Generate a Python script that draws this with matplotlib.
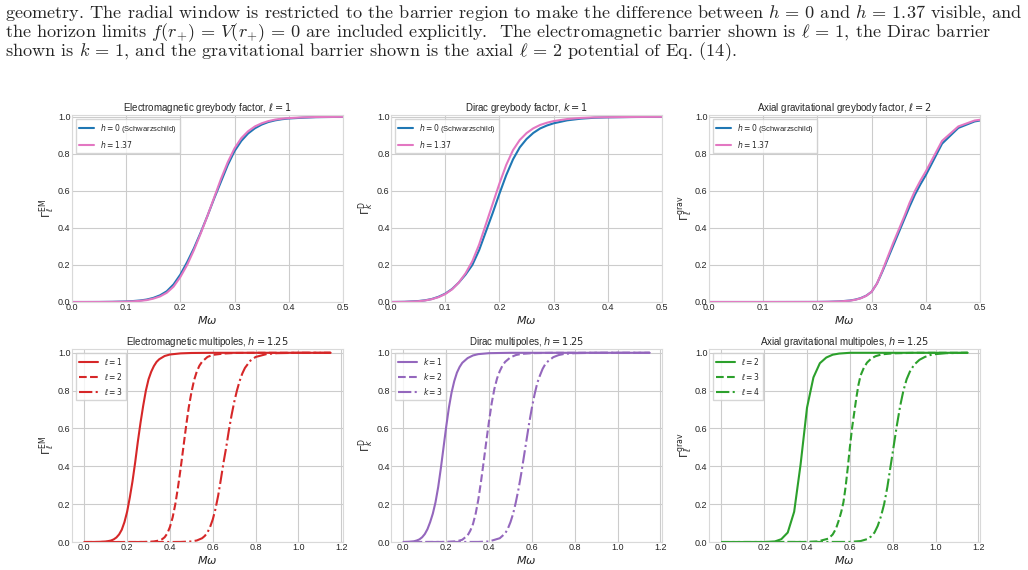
import numpy as np
import matplotlib
matplotlib.use("Agg")
import matplotlib.pyplot as plt

plt.style.use("seaborn-v0_8-whitegrid")
plt.rcParams["mathtext.fontset"] = "dejavusans"

# ---- top row: h = 0 vs h = 1.37 ----
em_x = [0, 0.025, 0.05, 0.075, 0.1, 0.1125, 0.125, 0.1375, 0.15, 0.1625, 0.175, 0.1875, 0.2, 0.2125,
        0.225, 0.2375, 0.25, 0.2625, 0.275, 0.2875, 0.3, 0.3125, 0.325, 0.3375, 0.35, 0.3625, 0.375,
        0.3875, 0.4, 0.425, 0.45, 0.475, 0.5]
em_h0 = [0, 0.00002, 0.0002, 0.001, 0.003, 0.005, 0.008, 0.013, 0.022, 0.036, 0.058, 0.095, 0.148, 0.215,
         0.29, 0.375, 0.465, 0.56, 0.65, 0.74, 0.815, 0.87, 0.91, 0.938, 0.958, 0.972, 0.981,
         0.987, 0.991, 0.995, 0.998, 0.999, 1.0]
em_h137 = [0, 0.00001, 0.0001, 0.0007, 0.002, 0.0035, 0.006, 0.01, 0.018, 0.03, 0.05, 0.083, 0.135, 0.2,
           0.28, 0.37, 0.465, 0.565, 0.665, 0.755, 0.83, 0.885, 0.922, 0.948, 0.965, 0.977, 0.985,
           0.99, 0.993, 0.997, 0.999, 0.9995, 1.0]

dirac_x = [0, 0.025, 0.05, 0.0625, 0.075, 0.0875, 0.1, 0.1125, 0.125, 0.1375, 0.15, 0.1625, 0.175, 0.1875,
           0.2, 0.2125, 0.225, 0.2375, 0.25, 0.2625, 0.275, 0.2875, 0.3, 0.325, 0.35, 0.375, 0.4, 0.45, 0.5]
dirac_h0 = [0, 0.001, 0.005, 0.009, 0.016, 0.028, 0.045, 0.07, 0.105, 0.148, 0.2, 0.28, 0.38, 0.48,
            0.585, 0.685, 0.77, 0.835, 0.88, 0.913, 0.937, 0.953, 0.965, 0.981, 0.99, 0.995, 0.997, 0.999, 1.0]
dirac_h137 = [0, 0.0008, 0.004, 0.008, 0.015, 0.026, 0.043, 0.068, 0.105, 0.155, 0.22, 0.31, 0.42, 0.53,
              0.64, 0.74, 0.82, 0.875, 0.912, 0.938, 0.956, 0.968, 0.977, 0.988, 0.994, 0.997, 0.998, 0.9995, 1.0]

grav_x = [0.0, 0.1, 0.2, 0.22, 0.24, 0.26, 0.27, 0.28, 0.29, 0.30, 0.31, 0.32, 0.33, 0.34, 0.35, 0.36, 0.37,
          0.38, 0.39, 0.40, 0.43, 0.46, 0.49, 0.52]
grav_h0 = [0, 0, 0.0003, 0.001, 0.003, 0.008, 0.013, 0.021, 0.034, 0.055, 0.1, 0.165, 0.235, 0.305, 0.375,
           0.445, 0.515, 0.58, 0.635, 0.685, 0.855, 0.94, 0.975, 0.99]
grav_h137 = [0, 0, 0.0003, 0.001, 0.003, 0.007, 0.012, 0.02, 0.033, 0.055, 0.1, 0.17, 0.245, 0.32, 0.39,
             0.46, 0.535, 0.6, 0.655, 0.705, 0.87, 0.948, 0.98, 0.992]

# ---- bottom row: multipoles at h = 1.25 ----
em1_x = [0, 0.05, 0.075, 0.1, 0.1125, 0.125, 0.1375, 0.15, 0.1625, 0.175, 0.1875, 0.2, 0.2125, 0.225, 0.2375,
         0.25, 0.2625, 0.275, 0.2875, 0.3, 0.3125, 0.325, 0.3375, 0.35, 0.375, 0.4, 0.45, 0.5, 0.6, 1.15]
em1_y = [0, 0.0002, 0.001, 0.003, 0.005, 0.008, 0.014, 0.024, 0.04, 0.065, 0.105, 0.16, 0.235, 0.32, 0.42,
         0.53, 0.63, 0.72, 0.8, 0.86, 0.9, 0.93, 0.952, 0.966, 0.983, 0.991, 0.997, 0.999, 1.0, 1.0]
em2_x = [0, 0.25, 0.3, 0.325, 0.35, 0.3625, 0.375, 0.3875, 0.4, 0.4125, 0.425, 0.4375, 0.45, 0.4625, 0.475,
         0.4875, 0.5, 0.5125, 0.525, 0.5375, 0.55, 0.575, 0.6, 0.65, 0.7, 0.8, 1.15]
em2_y = [0, 0.0001, 0.001, 0.003, 0.008, 0.014, 0.025, 0.045, 0.08, 0.13, 0.2, 0.29, 0.39, 0.5, 0.61,
         0.71, 0.79, 0.855, 0.9, 0.932, 0.953, 0.978, 0.989, 0.996, 0.999, 1.0, 1.0]
em3_x = [0, 0.4, 0.45, 0.5, 0.525, 0.55, 0.5625, 0.575, 0.5875, 0.6, 0.6125, 0.625, 0.6375, 0.65, 0.6625,
         0.675, 0.6875, 0.7, 0.7125, 0.725, 0.7375, 0.75, 0.775, 0.8, 0.85, 0.9, 1.0, 1.15]
em3_y = [0, 0.0001, 0.0005, 0.003, 0.008, 0.02, 0.032, 0.05, 0.08, 0.12, 0.175, 0.245, 0.33, 0.42, 0.5,
         0.59, 0.67, 0.74, 0.8, 0.85, 0.89, 0.92, 0.958, 0.978, 0.993, 0.998, 1.0, 1.0]

dk1_x = [0, 0.025, 0.05, 0.0625, 0.075, 0.0875, 0.1, 0.1125, 0.125, 0.1375, 0.15, 0.1625, 0.175, 0.1875,
         0.2, 0.2125, 0.225, 0.2375, 0.25, 0.2625, 0.275, 0.3, 0.325, 0.35, 0.4, 0.5, 1.15]
dk1_y = [0, 0.001, 0.004, 0.008, 0.014, 0.025, 0.042, 0.068, 0.105, 0.15, 0.21, 0.29, 0.39, 0.5,
         0.61, 0.71, 0.79, 0.85, 0.895, 0.925, 0.947, 0.972, 0.986, 0.993, 0.998, 1.0, 1.0]
dk2_x = [0, 0.2, 0.25, 0.275, 0.3, 0.3125, 0.325, 0.3375, 0.35, 0.3625, 0.375, 0.3875, 0.4, 0.4125, 0.425,
         0.4375, 0.45, 0.4625, 0.475, 0.5, 0.525, 0.55, 0.6, 0.7, 1.15]
dk2_y = [0, 0.0005, 0.004, 0.012, 0.035, 0.06, 0.095, 0.15, 0.225, 0.32, 0.425, 0.535, 0.64, 0.735, 0.81,
         0.865, 0.903, 0.932, 0.952, 0.976, 0.988, 0.994, 0.998, 1.0, 1.0]
dk3_x = [0, 0.35, 0.4, 0.45, 0.475, 0.4875, 0.5, 0.5125, 0.525, 0.5375, 0.55, 0.5625, 0.575, 0.5875, 0.6,
         0.6125, 0.625, 0.6375, 0.65, 0.6625, 0.675, 0.7, 0.725, 0.75, 0.8, 0.9, 1.15]
dk3_y = [0, 0.0005, 0.003, 0.02, 0.045, 0.07, 0.105, 0.15, 0.21, 0.28, 0.36, 0.45, 0.54, 0.63, 0.71,
         0.78, 0.84, 0.88, 0.915, 0.94, 0.955, 0.977, 0.988, 0.994, 0.998, 1.0, 1.0]

gl2_x = [0.01, 0.04, 0.07, 0.10, 0.13, 0.16, 0.19, 0.22, 0.25, 0.28, 0.31, 0.34, 0.37, 0.40, 0.43, 0.46,
         0.49, 0.52, 0.55, 0.6, 1.15]
gl2_y = [0, 0, 0, 0, 0, 0, 0, 0.0005, 0.003, 0.015, 0.05, 0.16, 0.41, 0.71, 0.87, 0.945,
         0.975, 0.99, 0.996, 1.0, 1.0]
gl3_x = [0, 0.4, 0.45, 0.5, 0.52, 0.535, 0.55, 0.56, 0.57, 0.58, 0.59, 0.6, 0.61, 0.62, 0.63, 0.64, 0.65,
         0.665, 0.68, 0.7, 0.72, 0.75, 0.8, 0.9, 1.15]
gl3_y = [0, 0.0003, 0.003, 0.018, 0.04, 0.07, 0.12, 0.16, 0.21, 0.29, 0.39, 0.5, 0.6, 0.68, 0.76, 0.83, 0.88,
         0.92, 0.948, 0.97, 0.982, 0.992, 0.997, 1.0, 1.0]
gl4_x = [0, 0.6, 0.65, 0.68, 0.7, 0.715, 0.73, 0.745, 0.76, 0.775, 0.79, 0.805, 0.82, 0.835, 0.85, 0.865,
         0.88, 0.9, 0.925, 0.95, 0.975, 1.0, 1.05, 1.15]
gl4_y = [0, 0.0005, 0.005, 0.015, 0.03, 0.05, 0.085, 0.135, 0.2, 0.29, 0.4, 0.51, 0.62, 0.72, 0.8, 0.86,
         0.9, 0.937, 0.963, 0.978, 0.988, 0.993, 0.998, 1.0]

c_blue, c_pink = "#1f77b4", "#e377c2"
c_red, c_purple, c_green = "#d62728", "#9467bd", "#2ca02c"

fig = plt.figure(figsize=(10.28, 5.70), dpi=100)

# paper text above the figure
para = [
    r"geometry. The radial window is restricted to the barrier region to make the difference between $h\,=\,0$ and $h\,=\,1.37$ visible, and",
    r"the horizon limits $f(r_{+})\,=\,V(r_{+})\,=\,0$ are included explicitly.  The electromagnetic barrier shown is $\ell\,=\,1$, the Dirac barrier",
    r"shown is $k\,=\,1$, and the gravitational barrier shown is the axial $\ell\,=\,2$ potential of Eq. (14).",
]
for i, line in enumerate(para):
    fig.text(0.005, 1 - (13 + 19.5 * i) / 570, line, fontsize=13.15, family="cmr10",
             math_fontfamily="cm", va="center", ha="left")

lefts = [0.0700, 0.3804, 0.6897]
w = 0.2636
top_axes = [fig.add_axes([l, 0.4702, w, 0.3281]) for l in lefts]
bot_axes = [fig.add_axes([l, 0.0491, w, 0.3386]) for l in lefts]

top_data = [
    (em_x, em_h0, em_h137, r"Electromagnetic greybody factor, $\ell = 1$", r"$\Gamma_\ell^{\rm EM}$"),
    (dirac_x, dirac_h0, dirac_h137, r"Dirac greybody factor, $k = 1$", r"$\Gamma_k^{\rm D}$"),
    (grav_x, grav_h0, grav_h137, r"Axial gravitational greybody factor, $\ell = 2$", r"$\Gamma_\ell^{\rm grav}$"),
]
for ax, (x, y0, y1, title, ylab) in zip(top_axes, top_data):
    ax.plot(x, y0, color=c_blue, lw=1.5, label=r"$h = 0$ (Schwarzschild)")
    ax.plot(x, y1, color=c_pink, lw=1.5, label=r"$h = 1.37$")
    ax.set_xlim(0, 0.5)
    ax.set_ylim(0, 1.01)
    ax.set_title(title, fontsize=7, pad=3)
    ax.set_ylabel(ylab, fontsize=8, labelpad=1)
    ax.set_xlabel(r"$M\omega$", fontsize=8, labelpad=1.5)
    ax.legend(loc="upper left", fontsize=5.5, frameon=True, framealpha=0.8, edgecolor="0.8",
              fancybox=False, handlelength=2.0)

bot_data = [
    ([(em1_x, em1_y), (em2_x, em2_y), (em3_x, em3_y)], c_red,
     [r"$\ell = 1$", r"$\ell = 2$", r"$\ell = 3$"], r"Electromagnetic multipoles, $h = 1.25$", r"$\Gamma_\ell^{\rm EM}$"),
    ([(dk1_x, dk1_y), (dk2_x, dk2_y), (dk3_x, dk3_y)], c_purple,
     [r"$k = 1$", r"$k = 2$", r"$k = 3$"], r"Dirac multipoles, $h = 1.25$", r"$\Gamma_k^{\rm D}$"),
    ([(gl2_x, gl2_y), (gl3_x, gl3_y), (gl4_x, gl4_y)], c_green,
     [r"$\ell = 2$", r"$\ell = 3$", r"$\ell = 4$"], r"Axial gravitational multipoles, $h = 1.25$", r"$\Gamma_\ell^{\rm grav}$"),
]
styles = ["-", "--", "-."]
for ax, (curves, col, labs, title, ylab) in zip(bot_axes, bot_data):
    for (x, y), ls, lab in zip(curves, styles, labs):
        ax.plot(x, y, color=col, lw=1.5, ls=ls, label=lab)
    ax.set_xlim(-0.0575, 1.2075)
    ax.set_ylim(0, 1.02)
    ax.set_xticks(np.arange(0, 1.21, 0.2))
    ax.set_title(title, fontsize=7, pad=3)
    ax.set_ylabel(ylab, fontsize=8, labelpad=1)
    ax.set_xlabel(r"$M\omega$", fontsize=8, labelpad=1.5)
    ax.legend(loc="upper left", fontsize=5.5, frameon=True, framealpha=0.8, edgecolor="0.8",
              fancybox=False, handlelength=2.5)

for ax in top_axes + bot_axes:
    ax.set_yticks(np.arange(0, 1.01, 0.2))
    ax.tick_params(labelsize=6.5, pad=1)
    for s in ax.spines.values():
        s.set_visible(True)
        s.set_color("0.85")
        s.set_linewidth(0.8)

fig.savefig("out.png", dpi=100)
